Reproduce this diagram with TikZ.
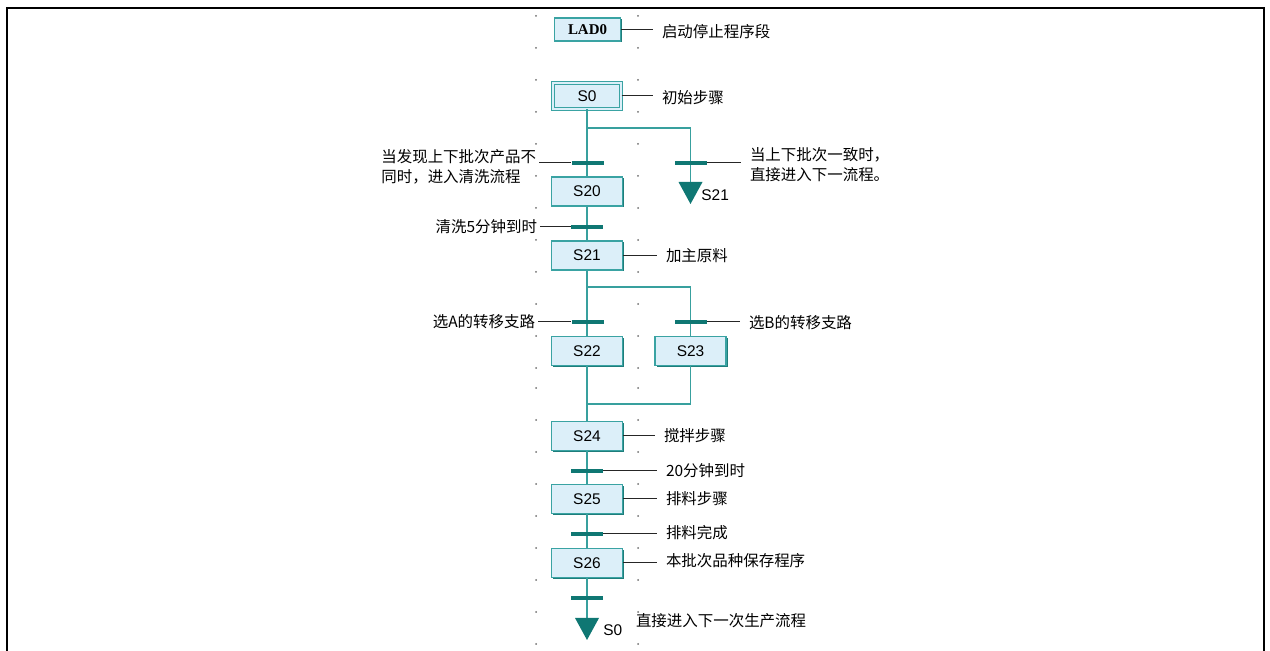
\documentclass[tikz,border=0pt]{standalone}
\usepackage{fontspec}
\usepackage{tikz}
\usetikzlibrary{shadows}
\newfontfamily\cjk{Noto Sans CJK SC}
\newfontfamily\stepfont{Liberation Sans}
\newfontfamily\ladfont{Liberation Serif}
\definecolor{stepfill}{HTML}{DCEFF9}
\definecolor{stepline}{HTML}{3AA3A3}
\definecolor{stepdark}{HTML}{1E7D7B}
\definecolor{flowline}{HTML}{38A09E}
\definecolor{barfill}{HTML}{0F7773}
\definecolor{gridgray}{HTML}{6E6E6E}
\tikzset{
  stepbox/.style={draw=stepline, line width=0.3mm, fill=stepfill,
    minimum width=14.2mm, minimum height=5.8mm, inner sep=0pt,
    font=\stepfont\fontsize{8.8}{10}\selectfont,
    general shadow={fill=stepdark, shadow xshift=0.3mm, shadow yshift=-0.3mm}},
  ladbox/.style={stepbox, minimum width=13.2mm, minimum height=4.6mm,
    font=\ladfont\bfseries\fontsize{8.5}{10}\selectfont},
  initbox/.style={stepbox, minimum width=13.6mm, minimum height=5.1mm,
    line width=0.2mm, double=stepfill, double distance=0.4mm},
  trans/.style={fill=barfill, minimum width=6.4mm, minimum height=0.8mm, inner sep=0pt},
  flow/.style={draw=flowline, line width=0.35mm},
  note/.style={font=\cjk\fontsize{8.8}{11.2}\selectfont, inner sep=0pt,
    outer sep=1.8mm, align=left, anchor=west},
  lnote/.style={note, outer sep=0.6mm, anchor=east},
  noteline/.style={draw=black!85, line width=0.2mm},
  jumplabel/.style={font=\stepfont\fontsize{8.8}{10}\selectfont, inner sep=0pt},
}
\begin{document}
\begin{tikzpicture}[x=0.2mm, y=-0.2mm]
  \useasboundingbox (0,0) rectangle (1270,651);
  \draw[line width=0.4mm] (7,651) -- (7,8) -- (1264,8) -- (1264,651);
  \foreach \x in {536,638} {
    \foreach \y in {16,48,...,368}
      \fill[gridgray] (\x,\y) circle (0.2mm);
    \foreach \y in {388,420,...,644}
      \fill[gridgray] (\x,\y) circle (0.2mm);
  }

  \node[ladbox] (lad0) at (587.5,29.5) {LAD0};
  \node[initbox] (s0) at (587,96) {S0};
  \node[stepbox] (s20) at (587,191.5) {S20};
  \node[stepbox] (s21) at (587,255.5) {S21};
  \node[stepbox] (s22) at (587,351) {S22};
  \node[stepbox] (s23) at (690.5,351) {S23};
  \node[stepbox] (s24) at (587,436) {S24};
  \node[stepbox] (s25) at (587,499) {S25};
  \node[stepbox] (s26) at (587,563) {S26};

  \coordinate (fork0) at (587,128);
  \coordinate (jump21) at (690.5,182);
  \coordinate (fork1) at (587,287);
  \coordinate (merge) at (587,404);
  \coordinate (jump0) at (587,618);

  \draw[flow] (s0) -- (s20);
  \draw[flow] (fork0) -| (jump21);
  \draw[flow] (s20) -- (s21);
  \draw[flow] (s21) -- (s22);
  \draw[flow] (fork1) -| (s23.north);
  \draw[flow] (s22) -- (s24);
  \draw[flow] (s23.south) |- (merge);
  \draw[flow] (s24) -- (s25);
  \draw[flow] (s25) -- (s26);
  \draw[flow] (s26) -- (jump0);

  \node[trans] (t20) at (587.5,163) {};
  \node[trans] (t21) at (690.5,163) {};
  \node[trans] (t5) at (587,227) {};
  \node[trans] (tA) at (587.5,322) {};
  \node[trans] (tB) at (690.5,322) {};
  \node[trans] (t20m) at (587,471) {};
  \node[trans] (tok) at (587,534) {};
  \node[trans] (tend) at (587,598) {};

  \fill[barfill] (jump21) -- ++(-12,0) -- ++(12,22) -- ++(12,-22) -- cycle;
  \fill[barfill] (jump0) -- ++(-12,0) -- ++(12,22) -- ++(12,-22) -- cycle;
  \node[jumplabel, anchor=west] (l21) at (701,195) {S21};
  \node[jumplabel, anchor=west] (l0) at (603,630) {S0};

  \node[note] (nlad) at (653,32) {启动停止程序段};
  \node[note] (ns0) at (653,98) {初始步骤};
  \node[lnote] (ndiff) at (539,167) {当发现上下批次产品不\\同时，进入清洗流程};
  \node[note] (nsame) at (741,164.5) {当上下批次一致时，\\直接进入下一流程。};
  \node[lnote] (nwash) at (540,227) {清洗5分钟到时};
  \node[note] (ns21) at (657,256) {加主原料};
  \node[lnote] (nA) at (538,322) {选A的转移支路};
  \node[note] (nB) at (740,323) {选B的转移支路};
  \node[note] (ns24) at (655,436) {搅拌步骤};
  \node[note] (nmin) at (657,471) {20分钟到时};
  \node[note] (ns25) at (657,499) {排料步骤};
  \node[note] (nok) at (657,533) {排料完成};
  \node[note] (ns26) at (657,561) {本批次品种保存程序};
  \node[note, outer sep=0pt] (nback) at (636,621) {直接进入下一次生产流程};

  \draw[noteline] (lad0.east) -- (lad0.east -| nlad.west);
  \draw[noteline] (s0.east) -- (s0.east -| ns0.west);
  \draw[noteline] (t20.west) -- (t20.west -| ndiff.east);
  \draw[noteline] (t21.east) -- (t21.east -| nsame.west);
  \draw[noteline] (t5.west) -- (t5.west -| nwash.east);
  \draw[noteline] (s21.east) -- (s21.east -| ns21.west);
  \draw[noteline] (tA.west) -- (tA.west -| nA.east);
  \draw[noteline] (tB.east) -- (tB.east -| nB.west);
  \draw[noteline] (s24.east) -- (s24.east -| ns24.west);
  \draw[noteline] (t20m.east) -- (t20m.east -| nmin.west);
  \draw[noteline] (s25.east) -- (s25.east -| ns25.west);
  \draw[noteline] (tok.east) -- (tok.east -| nok.west);
  \draw[noteline] (s26.east) -- (s26.east -| ns26.west);
\end{tikzpicture}
\end{document}
